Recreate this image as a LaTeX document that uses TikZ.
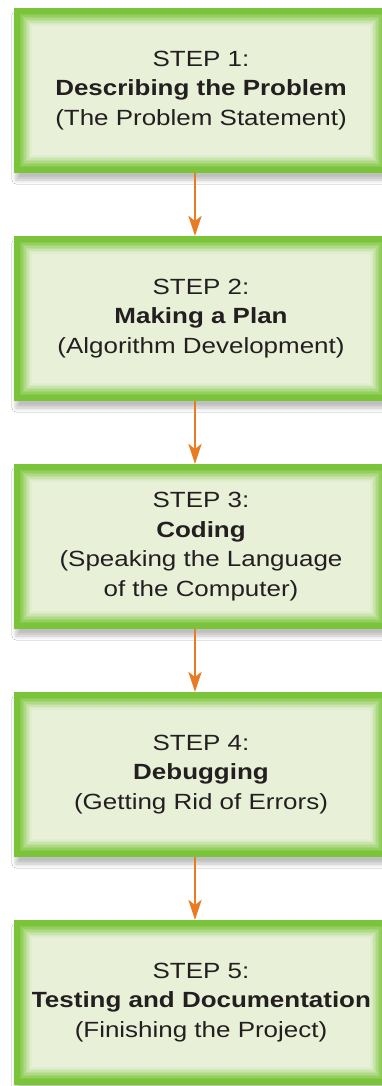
\documentclass[tikz,border=0pt]{standalone}
\usepackage{fontspec}
\usepackage{tikz}
\usetikzlibrary{arrows.meta,positioning,shadows.blur}
\newfontfamily\stepfont[FakeStretch=1.18]{Liberation Sans}
\definecolor{stepgreen}{RGB}{122,196,58}
\definecolor{stepfill}{RGB}{232,240,216}
\definecolor{steporange}{RGB}{232,124,36}
\definecolor{steptext}{RGB}{35,31,32}

\begin{document}
\begin{tikzpicture}[
    x=1pt, y=1pt,
    stepbox/.style={fill=stepfill,outer sep=0pt,minimum width=374pt,minimum height=165pt,
        align=center,font=\stepfont\fontsize{22}{29.5}\selectfont,text=steptext,
        execute at begin node={\rule{0pt}{20pt}},
        blur shadow={shadow xshift=2pt,shadow yshift=-7pt,shadow blur radius=4pt,shadow opacity=25}},
    >={Stealth[width=13pt,length=20pt,inset=5pt]},
    node distance=63pt
]
\useasboundingbox (0,0) rectangle (382,-1086);
\fill[white] (0,0) rectangle (382,-1086);

\node[stepbox] (s1) at (201,-90.5) {STEP 1:\\\textbf{Describing the Problem}\\(The Problem Statement)};
\node[stepbox,below=of s1] (s2) {STEP 2:\\\textbf{Making a Plan}\\(Algorithm Development)};
\node[stepbox,below=of s2] (s3) {STEP 3:\\\textbf{Coding}\\(Speaking the Language\\of the Computer)};
\node[stepbox,below=of s3] (s4) {STEP 4:\\\textbf{Debugging}\\(Getting Rid of Errors)};
\node[stepbox,below=of s4] (s5) {STEP 5:\\\textbf{Testing and Documentation}\\(Finishing the Project)};

% green frames, solid outside and fading inwards
\foreach \n in {s1,s2,s3,s4,s5}
  \foreach \k/\mix in {0/100,1/100,2/100,3/100,4/88,5/76,6/64,7/52,8/40,9/28,10/16,11/6}
    \draw[stepgreen!\mix!stepfill,line width=1.6pt]
      ([shift={(0.75pt+1.5pt*\k,-0.75pt-1.5pt*\k)}]\n.north west) rectangle ([shift={(-0.75pt-1.5pt*\k,0.75pt+1.5pt*\k)}]\n.south east);

\foreach \a/\b in {s1/s2,s2/s3,s3/s4,s4/s5}
  \draw[->,steporange,line width=2.8pt] ([xshift=-6pt]\a.south) -- ([xshift=-6pt]\b.north);
\end{tikzpicture}
\end{document}
